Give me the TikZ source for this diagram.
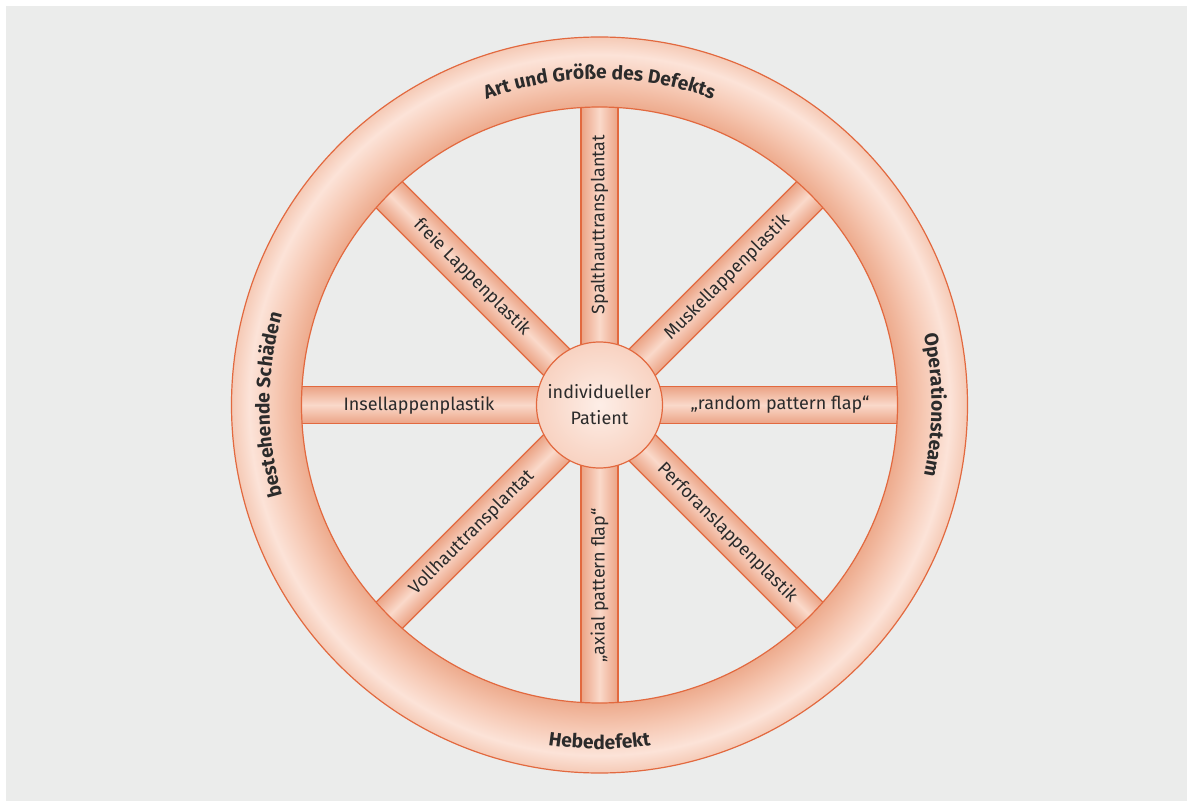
\documentclass[tikz,border=0pt]{standalone}
\usepackage{fontspec}
\setmainfont{Fira Sans}
\usetikzlibrary{decorations.text}

\definecolor{bggray}{HTML}{EBECEB}
\definecolor{rimline}{HTML}{E2693F}
\definecolor{spokedark}{HTML}{EBA385}
\definecolor{spokelight}{HTML}{FAD9CA}
\definecolor{rimA}{HTML}{EDAA8C}
\definecolor{rimB}{HTML}{F6C8B3}
\definecolor{rimC}{HTML}{FCE3D8}
\definecolor{rimD}{HTML}{F5CAB6}
\definecolor{hubin}{HTML}{FDEEE7}
\definecolor{hubout}{HTML}{F8D2C1}
\definecolor{txt}{HTML}{2B2B2B}

\pgfdeclareradialshading{rimshade}{\pgfpoint{0bp}{0bp}}{color(0bp)=(rimA); color(20.2bp)=(rimA); color(22bp)=(rimB); color(23.8bp)=(rimC); color(25bp)=(rimD); color(50bp)=(rimD)}

\newcommand{\rimfont}{\bfseries\fontsize{19.2}{21}\selectfont}

\tikzset{
  outline/.style={draw=rimline, line width=1.2pt},
  spokelabel/.style={font=\fontsize{18}{20}\selectfont, text=txt, inner sep=0pt},
  hubnode/.style={circle, outline, minimum size=126pt, inner color=hubin, outer color=hubout,
    align=center, text=txt, font=\fontsize{18}{26}\selectfont},
  rimlabel/.style={decorate, decoration={text along path, text align=center, text color=txt, text={|\rimfont|#1}}}
}

\begin{document}
\begin{tikzpicture}[x=1pt,y=1pt]
  \useasboundingbox (-599.5,405) rectangle (589.5,-398);
  \fill[bggray] (-593.5,399) rectangle (587.5,-396);

  % spokes
  \foreach \a/\t/\r [count=\i] in {90/Spalthauttransplantat/90, 45/Muskellappenplastik/45,
      0/{„random pattern flap“}/0, -45/Perforanslappenplastik/-45, -90/{„axial pattern flap“}/90,
      -135/Vollhauttransplantat/45, 180/Insellappenplastik/0, 135/{freie Lappenplastik}/-45}
  {
    \begin{scope}[transform canvas={rotate=\a}]
      \shade[top color=spokedark, bottom color=spokedark, middle color=spokelight] (58,-18.5) rectangle (300,18.5);
      \draw[outline] (58,-18.5) -- (300,-18.5) (58,18.5) -- (300,18.5);
    \end{scope}
    \node[spokelabel, rotate=\r] (spoke\i) at (\a:180.5) {\t};
  }

  % rim
  \shade[shading=rimshade, even odd rule] (0,0) circle[radius=368] circle[radius=298];
  \draw[outline] (0,0) circle[radius=368] circle[radius=298];

  \path[rimlabel={Art und Größe des Defekts}] (150:326) arc[start angle=150, end angle=30, radius=326];
  \path[rimlabel={Operationsteam}] (30:332) arc[start angle=30, end angle=-30, radius=332];
  \path[rimlabel={Hebedefekt}] (210:344) arc[start angle=210, end angle=330, radius=344];
  \path[rimlabel={bestehende Schäden}] (210:330) arc[start angle=210, end angle=150, radius=330];

  % hub
  \node[hubnode] (patient) at (0,0) {individueller\\Patient};
\end{tikzpicture}
\end{document}
